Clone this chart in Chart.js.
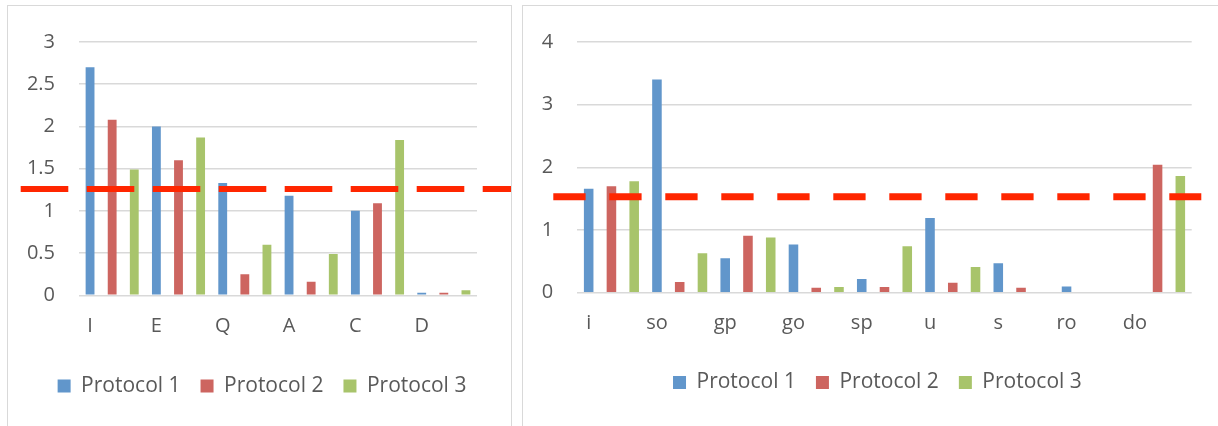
<!DOCTYPE html>
<html><head><meta charset="utf-8">
<script src="https://cdn.jsdelivr.net/npm/chart.js@4/dist/chart.umd.min.js"></script>
<style>
html,body{margin:0;padding:0;background:#fff;width:1218px;height:426px;overflow:hidden;}
.panel{position:absolute;border:1px solid #d9d9d9;box-sizing:border-box;}
#p1{left:7px;top:5px;width:505px;height:430px;}
#p2{left:522px;top:5px;width:710px;height:430px;}
canvas{position:absolute;left:0;top:0;}
</style></head>
<body>
<div class="panel" id="p1"><canvas id="c1" width="503" height="420"></canvas></div>
<div class="panel" id="p2"><canvas id="c2" width="695" height="420"></canvas></div>
<script>
// ---- data ----
const seriesNames = ['Protocol 1', 'Protocol 2', 'Protocol 3'];

const leftCategories = ['I', 'E', 'Q', 'A', 'C', 'D'];
const leftProtocol1 = [2.70, 2.00, 1.33, 1.18, 1.00, 0.03];
const leftProtocol2 = [2.08, 1.60, 0.25, 0.16, 1.09, 0.03];
const leftProtocol3 = [1.49, 1.87, 0.60, 0.49, 1.84, 0.06];
const leftThreshold = 1.26;
const leftTicks = [0, 0.5, 1, 1.5, 2, 2.5, 3];

const rightCategories = ['i', 'so', 'gp', 'go', 'sp', 'u', 's', 'ro', 'do'];
const rightProtocol1 = [1.66, 3.40, 0.55, 0.77, 0.22, 1.19, 0.47, 0.10, 0];
const rightProtocol2 = [1.70, 0.17, 0.91, 0.08, 0.09, 0.16, 0.08, 0, 2.04];
const rightProtocol3 = [1.78, 0.63, 0.88, 0.09, 0.74, 0.41, 0, 0, 1.86];
const rightThreshold = 1.53;
const rightTicks = [0, 1, 2, 3, 4];

// ---- styles ----
const colors = ['#6196cb', '#cd6560', '#a8c46b'];
const textColor = '#595959';
const fontFamily = "'Open Sans', 'Noto Sans', sans-serif";

function slotLabels(cats) {
  const out = [];
  cats.forEach(c => out.push(c, '', ''));
  return out;
}
function slotData(values, k) {
  const out = [];
  values.forEach(v => { for (let j = 0; j < 3; j++) out.push(j === k ? v : null); });
  return out;
}

const thresholdPlugin = {
  id: 'threshold',
  afterDraw(chart, args, o) {
    const ctx = chart.ctx;
    const y = chart.scales.y.getPixelForValue(o.value);
    ctx.save();
    ctx.strokeStyle = o.color;
    ctx.lineWidth = o.width;
    ctx.lineCap = 'butt';
    ctx.setLineDash(o.dash);
    ctx.beginPath();
    ctx.moveTo(o.x0, y);
    ctx.lineTo(o.x1, y);
    ctx.stroke();
    ctx.restore();
  }
};

function makeChart(id, cats, s1, s2, s3, ticks, threshold, L) {
  const series = [s1, s2, s3];
  new Chart(document.getElementById(id), {
    type: 'bar',
    data: {
      labels: slotLabels(cats),
      datasets: series.map((s, k) => ({
        label: seriesNames[k],
        data: slotData(s, k),
        backgroundColor: colors[k],
        borderWidth: 0,
        grouped: false,
        barPercentage: L.barPct,
        categoryPercentage: 1
      }))
    },
    options: {
      responsive: false,
      animation: false,
      devicePixelRatio: 1,
      layout: { padding: { left: L.padL, right: 0, top: L.padT, bottom: L.padB } },
      scales: {
        x: {
          grid: { display: false, drawTicks: false },
          border: { display: false },
          ticks: { autoSkip: false, maxRotation: 0, minRotation: 0, padding: L.xPad,
                   color: textColor, font: { family: fontFamily, size: 20 } },
          afterFit: s => { s.height = L.xH; }
        },
        y: {
          min: ticks[0], max: ticks[ticks.length - 1],
          afterBuildTicks: s => { s.ticks = ticks.map(v => ({ value: v })); },
          grid: { color: '#d9d9d9', lineWidth: 1.5, drawTicks: false },
          border: { display: false },
          ticks: { padding: 24, color: textColor, font: { family: fontFamily, size: 20 },
                   callback: v => String(Number(v)) },
          afterFit: s => { s.width = L.yW; }
        },
        yR: {
          type: 'linear', position: 'right', display: true,
          grid: { display: false, drawTicks: false },
          border: { display: false },
          ticks: { display: false },
          afterFit: s => { s.width = L.rW; }
        }
      },
      plugins: {
        tooltip: { enabled: false },
        legend: {
          position: 'bottom',
          labels: { boxWidth: 13, boxHeight: 13, padding: 20, color: textColor,
                    font: { family: fontFamily, size: 21 } }
        },
        threshold: { value: threshold, color: '#ff2600', width: L.lw, dash: L.dash, x0: L.x0, x1: L.x1 }
      }
    },
    plugins: [thresholdPlugin]
  });
}

makeChart('c1', leftCategories, leftProtocol1, leftProtocol2, leftProtocol3, leftTicks, leftThreshold,
  { padL: 5, rW: 34, padT: 33.3, padB: 19.5, xH: 60.2, yW: 66, xPad: 19, barPct: 0.4,
    lw: 6, dash: [47.6, 18.4], x0: 12.7, x1: 503 });
makeChart('c2', rightCategories, rightProtocol1, rightProtocol2, rightProtocol3, rightTicks, rightThreshold,
  { padL: 13.8, rW: 26.3, padT: 33.3, padB: 23, xH: 59.3, yW: 40.5, xPad: 19, barPct: 0.42,
    lw: 7, dash: [32.3, 23.7], x0: 30.3, x1: 678.3 });
</script>
</body></html>
